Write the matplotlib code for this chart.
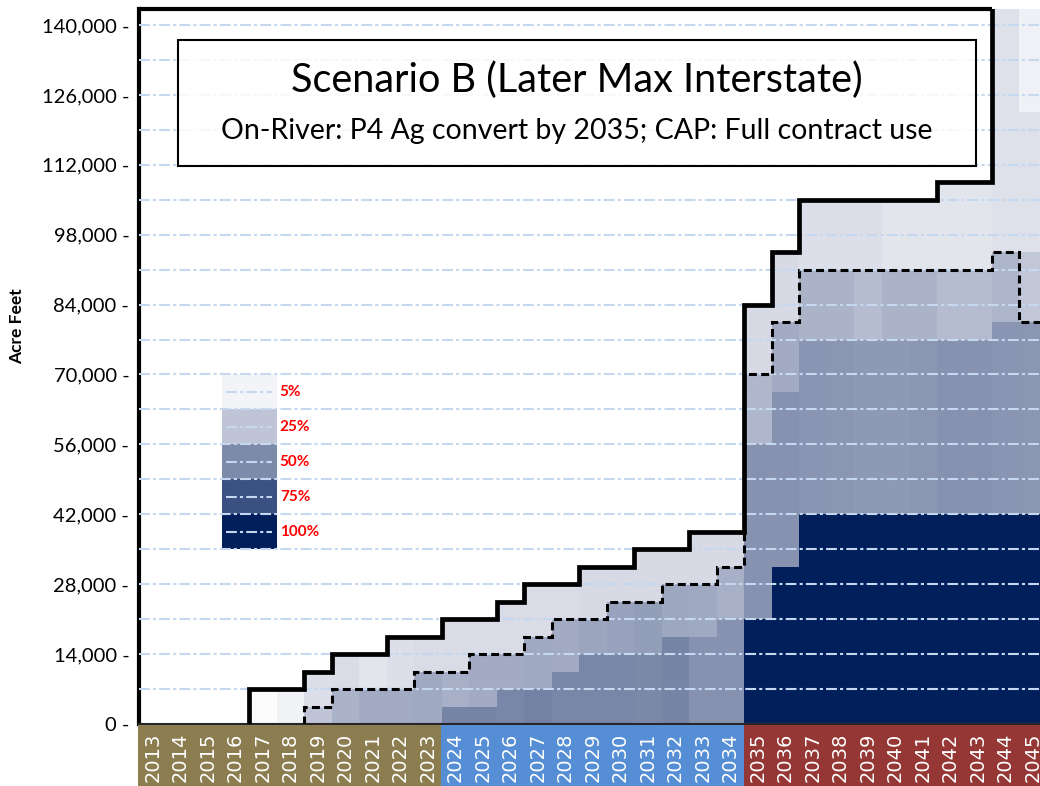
# Probability fan chart of annual acre-feet by year (Scenario B),
# drawn as stacked shaded bands with the max (solid) and 25% (dashed) envelopes

import numpy as np
import matplotlib
matplotlib.use("Agg")
import matplotlib.pyplot as plt
from matplotlib.colors import LinearSegmentedColormap
from matplotlib.patches import Rectangle
from matplotlib.ticker import FuncFormatter

years = list(range(2013, 2046))

# top of each shaded band (acre-feet), bottom to top
navy_top = [0]*22 + [21000, 31500] + [42000]*9
mid_top = [0]*11 + [3500, 3500, 7000, 7000, 10500, 14000, 14000, 14000, 17500, 17500,
                    21000, 56000, 66500] + [77000]*7 + [80500, 80500]
upper_top = [0]*6 + [3500, 7000, 7000, 7000, 10500, 10500, 14000, 14000, 17500, 21000,
                     21000, 24500, 24500, 28000, 28000, 31500, 70000, 80500] + [91000]*7 + [94500, 94500]
light_top = [0]*4 + [7000, 7000, 10500, 14000, 14000, 17500, 17500, 21000, 21000, 24500,
                     28000, 28000, 31500, 31500, 35000, 35000, 38500, 38500, 84000, 94500] + \
            [105000]*5 + [108500, 108500, 146000, 122500]
max_af = [0]*4 + [7000, 7000, 10500, 14000, 14000, 17500, 17500, 21000, 21000, 24500,
                  28000, 28000, 31500, 31500, 35000, 35000, 38500, 38500, 84000, 94500] + \
         [105000]*5 + [108500, 108500, 146000, 146000]
dashed_af = [0]*6 + [3500, 7000, 7000, 7000, 10500, 10500, 14000, 14000, 17500, 21000,
                     21000, 24500, 24500, 28000, 28000, 31500, 70000, 80500] + [91000]*7 + [94500, 80500]

# shading level (probability) of each band
mid_p = [0]*11 + [0.53, 0.53, 0.52, 0.54, 0.52, 0.52, 0.52, 0.51, 0.53, 0.47, 0.47,
                  0.47, 0.47, 0.46, 0.45, 0.44, 0.44, 0.45, 0.47, 0.47, 0.46, 0.45]
upper_p = [0]*6 + [0.25, 0.33, 0.36, 0.36, 0.37, 0.34, 0.36, 0.36, 0.37, 0.36, 0.39, 0.40,
                   0.42, 0.38, 0.37, 0.34, 0.31, 0.36, 0.33, 0.33, 0.29, 0.33, 0.33, 0.29,
                   0.29, 0.32, 0.24]
light_p = [0]*4 + [0.015, 0.055, 0.14, 0.15, 0.11, 0.14, 0.15, 0.15, 0.15, 0.15, 0.15, 0.15,
                   0.16, 0.16, 0.16, 0.16, 0.16, 0.16, 0.16, 0.16, 0.14, 0.14, 0.14, 0.11,
                   0.11, 0.11, 0.11, 0.13, 0.13]
faint_p = 0.06

legend_p = [0.05, 0.25, 0.50, 0.75, 1.00]
legend_labels = ['5%', '25%', '50%', '75%', '100%']

yticks = list(range(0, 140001, 14000))
title = 'Scenario B (Later Max Interstate)'
subtitle = 'On-River: P4 Ag convert by 2035; CAP: Full contract use'

cmap = LinearSegmentedColormap.from_list('fan', [
    (0.0, '#FFFFFF'), (0.05, '#F2F3F7'), (0.25, '#BFC5D6'),
    (0.5, '#7E8BAB'), (0.75, '#3B5282'), (1.0, '#001F5B')])

grid_color = '#C5D8F0'
grid_ls = (0, (5.2, 1.5, 1.5, 1.5))

plt.rcParams['font.family'] = ['Lato', 'DejaVu Sans']

W, H = 1040, 786
fig = plt.figure(figsize=(W / 100, H / 100), dpi=100)
left_px, top_px, bottom_px, col_px = 139, 8.5, 724, 27.5
ax = fig.add_axes([left_px / W, 1 - bottom_px / H, (W - left_px) / W, (bottom_px - top_px) / H])
xmax = (W - left_px) / col_px
ymax = 143300
ax.set_xlim(0, xmax)
ax.set_ylim(0, ymax)

n = len(years)
x = np.arange(n) + 0.5
levels = [
    (np.zeros(n), navy_top, [1.0]*n),
    (navy_top, mid_top, mid_p),
    (mid_top, upper_top, upper_p),
    (upper_top, light_top, light_p),
    (light_top, max_af, [faint_p]*n),
]
for lo, hi, p in levels:
    lo = np.asarray(lo, float)
    hi = np.asarray(hi, float)
    ax.bar(x, hi - lo, bottom=lo, width=1, color=cmap(np.asarray(p)),
           linewidth=0, antialiased=False, zorder=1)

# legend swatches
for i, (p, lab) in enumerate(zip(legend_p, legend_labels)):
    top = 70000 - i * 7000
    ax.bar(4, 7000, bottom=top - 7000, width=2, color=cmap(p), linewidth=0,
           antialiased=False, zorder=2)
    ax.hlines(top - 3500, 3.15, 4.85, colors=grid_color, linestyles=grid_ls, lw=1.5, zorder=3)
    ax.text(5.12, top - 3500, lab, color='#FF0000', fontweight='bold', fontsize=11,
            va='center', ha='left', zorder=3)

# gridlines
ax.hlines(np.arange(7000, 140001, 7000), 0, n, colors=grid_color, linestyles=grid_ls,
          lw=1.5, zorder=3)

# envelopes
edges = np.arange(n + 1)
ax.stairs(max_af[4:], edges[4:], baseline=0, color='black', lw=3.4, zorder=5)
ax.stairs(dashed_af[6:], edges[6:], baseline=0, color='black', lw=2.2,
          linestyle=(0, (2.6, 1.4)), zorder=4)

# axes frame
for s in ['top', 'right']:
    ax.spines[s].set_visible(False)
ax.spines['left'].set_linewidth(3)
ax.spines['left'].set_color('black')
ax.spines['bottom'].set_linewidth(1.5)
ax.spines['bottom'].set_color('#262626')
ax.plot([0, 31], [ymax, ymax], color='black', lw=3, clip_on=False, zorder=6,
        solid_capstyle='butt')

ax.set_xticks([])
ax.set_yticks(yticks)
ax.yaxis.set_major_formatter(FuncFormatter(lambda v, _: f'{v:,.0f} -'))
ax.tick_params(axis='y', length=0, pad=7, labelsize=14.5)

fig.text(17 / W, 1 - 326 / H, 'Acre Feet', rotation=90, fontweight='bold', fontsize=12.5,
         ha='center', va='center')

# year strip under the plot
bx = fig.add_axes([(left_px - 1) / W, 0, (W - left_px + 1) / W, (H - bottom_px - 1) / H])
bx.set_xlim(-1 / col_px, xmax)
bx.set_ylim(0, 1)
bx.axis('off')
strip_colors = ['#8C7D50' if y < 2024 else '#558ED5' if y < 2035 else '#953735' for y in years]
bx.bar(np.r_[-0.5 / col_px, x], 1, width=np.r_[1 / col_px, np.ones(n)],
       color=[strip_colors[0]] + strip_colors, linewidth=0, antialiased=False)
for xi, yr in zip(x, years):
    bx.text(xi, 0.88, str(yr), rotation=90, ha='center', va='top', color='white',
            fontsize=14, family='DejaVu Sans')

# title box
box = Rectangle((178 / W, 1 - 166 / H), (976 - 178) / W, (166 - 40) / H,
                transform=fig.transFigure, facecolor=(1, 1, 1, 0.85), edgecolor='black',
                lw=1.5, zorder=10)
fig.add_artist(box)
fig.text(577 / W, 1 - 80 / H, title, ha='center', va='center', fontsize=28.5, zorder=11)
fig.text(577 / W, 1 - 131 / H, subtitle, ha='center', va='center', fontsize=20.5, zorder=11)

fig.savefig('out.png', dpi=100)
